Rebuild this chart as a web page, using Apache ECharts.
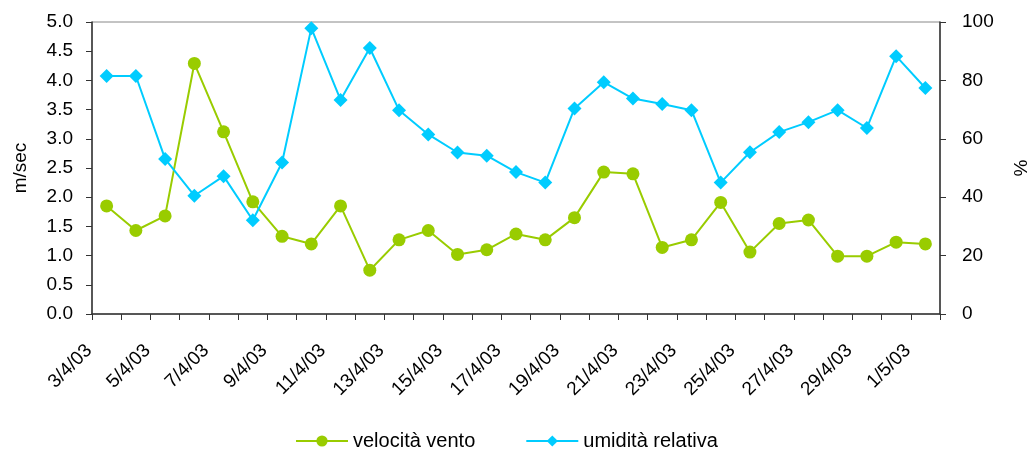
<!DOCTYPE html>
<html>
<head>
<meta charset="utf-8">
<script src="https://cdn.jsdelivr.net/npm/echarts@6/dist/echarts.min.js"></script>
<style>html,body{margin:0;padding:0;background:#fff}#c{width:1029px;height:450px}</style>
</head>
<body>
<div id="c"></div>
<script>
const categories = ['3/4/03','4/4/03','5/4/03','6/4/03','7/4/03','8/4/03','9/4/03','10/4/03','11/4/03','12/4/03',
  '13/4/03','14/4/03','15/4/03','16/4/03','17/4/03','18/4/03','19/4/03','20/4/03','21/4/03','22/4/03',
  '23/4/03','24/4/03','25/4/03','26/4/03','27/4/03','28/4/03','29/4/03','30/4/03','1/5/03'];
const velocitaVento = [1.85,1.43,1.68,4.29,3.12,1.92,1.33,1.20,1.85,0.75,
  1.27,1.43,1.02,1.10,1.37,1.27,1.65,2.43,2.40,1.14,
  1.27,1.91,1.06,1.55,1.61,0.99,0.99,1.23,1.20];
const umiditaRelativa = [81.5,81.5,53.1,40.5,47.2,32.1,51.9,97.9,73.3,91.1,
  69.8,61.5,55.3,54.2,48.6,45.0,70.4,79.4,73.8,71.9,
  69.8,45.0,55.4,62.3,65.7,69.8,63.7,88.3,77.4];
const leftName = 'm/sec';
const rightName = '%';
const seriesNames = ['velocità vento','umidità relativa'];

const FONT = 'Liberation Sans';
const axisColor = '#333';
const chart = echarts.init(document.getElementById('c'), null, {renderer:'canvas'});
chart.setOption({
  animation:false,
  textStyle:{fontFamily:FONT},
  grid:{left:92,right:89,top:22,bottom:136,show:true,borderColor:'#888',borderWidth:1,
        containLabel:false,outerBoundsMode:'none'},
  legend:{
    data:seriesNames, top:426, left:290,
    itemWidth:52, itemHeight:14, itemGap:50,
    textStyle:{fontFamily:FONT,fontSize:20,color:'#000'}
  },
  xAxis:{
    type:'category', data:categories, boundaryGap:true,
    axisLine:{lineStyle:{color:axisColor,width:1.5}},
    axisTick:{show:true,interval:0,length:6,lineStyle:{color:axisColor}},
    axisLabel:{interval:1,rotate:45,margin:16,padding:[0,25,0,0],fontFamily:FONT,fontSize:19,color:'#000'},
    splitLine:{show:false}
  },
  yAxis:[
    {type:'value',min:0,max:5,interval:0.5,position:'left',
     name:leftName,nameLocation:'middle',nameRotate:90,nameGap:62,
     nameTextStyle:{fontFamily:FONT,fontSize:19,color:'#000'},
     axisLine:{show:true,lineStyle:{color:axisColor,width:1.5}},
     axisTick:{show:true,length:6,lineStyle:{color:axisColor}},
     axisLabel:{formatter:v=>v.toFixed(1),fontFamily:FONT,fontSize:19,color:'#000',margin:19},
     splitLine:{show:false}},
    {type:'value',min:0,max:100,interval:20,position:'right',
     name:rightName,nameLocation:'middle',nameRotate:90,nameGap:72,
     nameTextStyle:{fontFamily:FONT,fontSize:19,color:'#000'},
     axisLine:{show:true,lineStyle:{color:axisColor,width:1.5}},
     axisTick:{show:true,length:6,lineStyle:{color:axisColor}},
     axisLabel:{fontFamily:FONT,fontSize:19,color:'#000',margin:22},
     splitLine:{show:false}}
  ],
  series:[
    {name:seriesNames[0],type:'line',yAxisIndex:0,data:velocitaVento,
     symbol:'circle',symbolSize:13,showAllSymbol:true,
     lineStyle:{color:'#99CC00',width:2},itemStyle:{color:'#99CC00'}},
    {name:seriesNames[1],type:'line',yAxisIndex:1,data:umiditaRelativa,
     symbol:'diamond',symbolSize:14,showAllSymbol:true,
     lineStyle:{color:'#00CCFF',width:2},itemStyle:{color:'#00CCFF'}}
  ]
});
</script>
</body>
</html>
